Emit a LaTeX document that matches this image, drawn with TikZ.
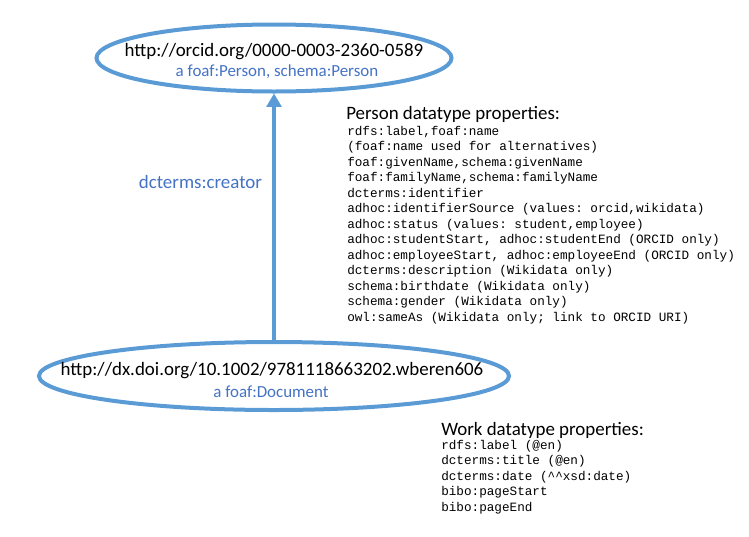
\documentclass[tikz,border=0pt]{standalone}
\usepackage{fontspec}
\setmainfont{Carlito}
\setmonofont{Liberation Mono}
\usetikzlibrary{shapes.geometric,arrows.meta}
\definecolor{ringblue}{RGB}{91,155,213}
\definecolor{typeblue}{RGB}{68,114,196}
\begin{document}
\begin{tikzpicture}[x=0.75pt,y=0.75pt,yscale=-1,xscale=1,
  resource/.style={draw=ringblue,line width=3pt,ellipse,inner sep=0pt},
  uri/.style={anchor=base,font=\fontsize{14.2}{17}\selectfont},
  rdftype/.style={anchor=base,text=typeblue,font=\fontsize{12.7}{15}\selectfont},
  props/.style={anchor=north west,inner sep=0pt,align=left,font=\ttfamily\fontsize{9.5}{11.6}\selectfont},
  propshead/.style={anchor=base west,inner sep=0pt,font=\fontsize{14.2}{17}\selectfont},
  link/.style={draw=ringblue,line width=3pt,-{Triangle[width=11pt,length=10pt]}}]
\useasboundingbox (0,0) rectangle (749,536);

%Person ellipse
\node[resource,minimum width=355*0.75,minimum height=67*0.75] (person) at (274,58) {};
\node[uri] (personuri) at (274,56) {http://orcid.org/0000-0003-2360-0589};
\node[rdftype] (persontype) at (277,76) {a foaf:Person, schema:Person};

%Work ellipse
\node[resource,minimum width=470*0.75,minimum height=68*0.75] (work) at (274,376) {};
\node[uri] (workuri) at (272,375) {http://dx.doi.org/10.1002/9781118663202.wberen606};
\node[rdftype] (worktype) at (271,397) {a foaf:Document};

%Creator link
\draw[link] (work) -- node[pos=0.64,left=7.5pt,inner sep=0pt,text=typeblue,font=\fontsize{14.2}{17}\selectfont] (creator) {dcterms:creator} (person);

%Person properties
\node[propshead] (personhead) at (346,119) {Person datatype properties:};
\node[props] (personprops) at (347,126) {rdfs:label,foaf:name\\
(foaf:name used for alternatives)\\
foaf:givenName,schema:givenName\\
foaf:familyName,schema:familyName\\
dcterms:identifier\\
adhoc:identifierSource (values: orcid,wikidata)\\
adhoc:status (values: student,employee)\\
adhoc:studentStart, adhoc:studentEnd (ORCID only)\\
adhoc:employeeStart, adhoc:employeeEnd (ORCID only)\\
dcterms:description (Wikidata only)\\
schema:birthdate (Wikidata only)\\
schema:gender (Wikidata only)\\
owl:sameAs (Wikidata only; link to ORCID URI)};

%Work properties
\node[propshead] (workhead) at (441,435) {Work datatype properties:};
\node[props] (workprops) at (441,440) {rdfs:label (@en)\\
dcterms:title (@en)\\
dcterms:date (\^{}\^{}xsd:date)\\
bibo:pageStart\\
bibo:pageEnd};

\end{tikzpicture}
\end{document}
